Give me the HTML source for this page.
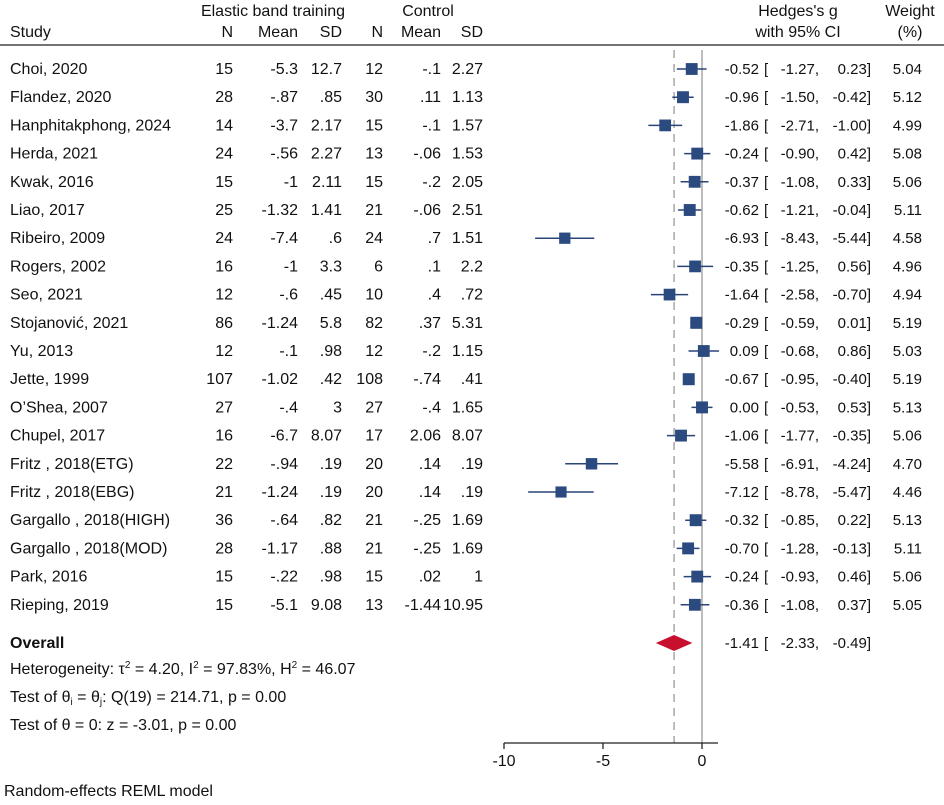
<!DOCTYPE html>
<html><head><meta charset="utf-8"><style>
body{margin:0;background:#fff}
svg text{font-family:"Liberation Sans",Arial,sans-serif;font-size:16px;fill:#111}
svg text.ci{font-size:15px}
</style></head><body>
<svg id="c" width="944" height="800" xmlns="http://www.w3.org/2000/svg">
<g id="hdr">
<text x="273" y="16" text-anchor="middle">Elastic band training</text>
<text x="428" y="16" text-anchor="middle">Control</text>
<text x="798" y="16" text-anchor="middle">Hedges's g</text>
<text x="910" y="16" text-anchor="middle">Weight</text>
<text x="10" y="37">Study</text>
<text x="233" y="37" text-anchor="end">N</text>
<text x="298" y="37" text-anchor="end">Mean</text>
<text x="342" y="37" text-anchor="end">SD</text>
<text x="383" y="37" text-anchor="end">N</text>
<text x="441" y="37" text-anchor="end">Mean</text>
<text x="483" y="37" text-anchor="end">SD</text>
<text x="798" y="37" text-anchor="middle">with 95% CI</text>
<text x="910" y="37" text-anchor="middle">(%)</text>
<line x1="0" x2="944" y1="45" y2="45" stroke="#222" stroke-width="1.3"/>
</g>
<g id="plot"></g>
<text x="10" y="648" font-weight="bold">Overall</text>
<text x="10" y="674">Heterogeneity: τ<tspan dy="-6" font-size="10">2</tspan><tspan dy="6"> = 4.20, I</tspan><tspan dy="-6" font-size="10">2</tspan><tspan dy="6"> = 97.83%, H</tspan><tspan dy="-6" font-size="10">2</tspan><tspan dy="6"> = 46.07</tspan></text>
<text x="10" y="702">Test of θ<tspan dy="3" font-size="10">i</tspan><tspan dy="-3"> = θ</tspan><tspan dy="3" font-size="10">j</tspan><tspan dy="-3">: Q(19) = 214.71, p = 0.00</tspan></text>
<text x="10" y="730">Test of θ = 0: z = -3.01, p = 0.00</text>
<text x="4" y="796">Random-effects REML model</text>
</svg>
<script>
const studies=["Choi, 2020","Flandez, 2020","Hanphitakphong, 2024","Herda, 2021","Kwak, 2016","Liao, 2017","Ribeiro, 2009","Rogers, 2002","Seo, 2021","Stojanović, 2021","Yu, 2013","Jette, 1999","O’Shea, 2007","Chupel, 2017","Fritz , 2018(ETG)","Fritz , 2018(EBG)","Gargallo , 2018(HIGH)","Gargallo , 2018(MOD)","Park, 2016","Rieping, 2019"];
const n1=["15","28","14","24","15","25","24","16","12","86","12","107","27","16","22","21","36","28","15","15"];
const mean1=["-5.3","-.87","-3.7","-.56","-1","-1.32","-7.4","-1","-.6","-1.24","-.1","-1.02","-.4","-6.7","-.94","-1.24","-.64","-1.17","-.22","-5.1"];
const sd1=["12.7",".85","2.17","2.27","2.11","1.41",".6","3.3",".45","5.8",".98",".42","3","8.07",".19",".19",".82",".88",".98","9.08"];
const n2=["12","30","15","13","15","21","24","6","10","82","12","108","27","17","20","20","21","21","15","13"];
const mean2=["-.1",".11","-.1","-.06","-.2","-.06",".7",".1",".4",".37","-.2","-.74","-.4","2.06",".14",".14","-.25","-.25",".02","-1.44"];
const sd2=["2.27","1.13","1.57","1.53","2.05","2.51","1.51","2.2",".72","5.31","1.15",".41","1.65","8.07",".19",".19","1.69","1.69","1","10.95"];
const g=[-0.52,-0.96,-1.86,-0.24,-0.37,-0.62,-6.93,-0.35,-1.64,-0.29,0.09,-0.67,0.00,-1.06,-5.58,-7.12,-0.32,-0.70,-0.24,-0.36];
const lo=[-1.27,-1.50,-2.71,-0.90,-1.08,-1.21,-8.43,-1.25,-2.58,-0.59,-0.68,-0.95,-0.53,-1.77,-6.91,-8.78,-0.85,-1.28,-0.93,-1.08];
const hi=[0.23,-0.42,-1.00,0.42,0.33,-0.04,-5.44,0.56,-0.70,0.01,0.86,-0.40,0.53,-0.35,-4.24,-5.47,0.22,-0.13,0.46,0.37];
const weight=[5.04,5.12,4.99,5.08,5.06,5.11,4.58,4.96,4.94,5.19,5.03,5.19,5.13,5.06,4.70,4.46,5.13,5.11,5.06,5.05];
const overall=[-1.41,-2.33,-0.49];
const ticks=[-10,-5,0];
const NS="http://www.w3.org/2000/svg";
const P=document.getElementById('plot');
const xs=v=>702+v*19.8;
const ys=i=>69+i*28.2;
function mk(t,a,txt){const e=document.createElementNS(NS,t);for(const k in a)e.setAttribute(k,a[k]);if(txt!=null)e.textContent=txt;P.appendChild(e);return e;}
const f2=v=>(v<0?'-':'')+Math.abs(v).toFixed(2);
function ciText(y,gv,lv,hv,nm){
 const a=mk('text',{x:759,y:y,'text-anchor':'end','class':'ci'},f2(gv));
 
 
 const b=mk('text',{x:764,y:y,'class':'ci'},'[');
 
 
 const c=mk('text',{x:819,y:y,'text-anchor':'end','class':'ci'},f2(lv)+',');
 
 
 const d=mk('text',{x:871,y:y,'text-anchor':'end','class':'ci'},f2(hv)+']');
 
 
}
let l=mk('line',{x1:xs(0),x2:xs(0),y1:50,y2:743,stroke:'#999','stroke-width':1.3});


l=mk('line',{x1:xs(overall[0]),x2:xs(overall[0]),y1:50,y2:743,stroke:'#999','stroke-width':1.3,'stroke-dasharray':'8,6'});


studies.forEach((s,i)=>{
 const y=ys(i);
 const cols=[[10,s,'start'],[233,n1[i],'end'],[298,mean1[i],'end'],[342,sd1[i],'end'],[383,n2[i],'end'],[441,mean2[i],'end'],[483,sd2[i],'end']];
 const names=['study-name','n-treatment','mean-treatment','sd-treatment','n-control','mean-control','sd-control'];
 cols.forEach((c,j)=>{const t=mk('text',{x:c[0],y:y+5,'text-anchor':c[2]},c[1]);
  
  });
 const ci=mk('line',{x1:xs(lo[i]),x2:xs(hi[i]),y1:y,y2:y,stroke:'#2a4478','stroke-width':1.5});
 
 
 const sz=12*Math.sqrt(weight[i]/5.19);
 const sq=mk('rect',{x:xs(g[i])-sz/2,y:y-sz/2,width:sz,height:sz,fill:'#2b4a80'});
 
 
 ciText(y+5,g[i],lo[i],hi[i],'study');
 const w=mk('text',{x:922,y:y+5,'text-anchor':'end','class':'ci'},weight[i].toFixed(2));
 
 
});
const oy=643;
ciText(oy+5,overall[0],overall[1],overall[2],'overall');
const d=mk('polygon',{points:`${xs(overall[1])},${oy} ${xs(overall[0])},${oy-8} ${xs(overall[2])},${oy} ${xs(overall[0])},${oy+8}`,fill:'#c8102e'});


const ax=mk('line',{x1:xs(-10),x2:718,y1:743,y2:743,stroke:'#222','stroke-width':1.3});


ticks.forEach(v=>{
 const tk=mk('line',{x1:xs(v),x2:xs(v),y1:743,y2:749,stroke:'#222','stroke-width':1.3});
 
 
 const tl=mk('text',{x:xs(v),y:766,'text-anchor':'middle'},String(v));
 
 
});
</script>
</body></html>
